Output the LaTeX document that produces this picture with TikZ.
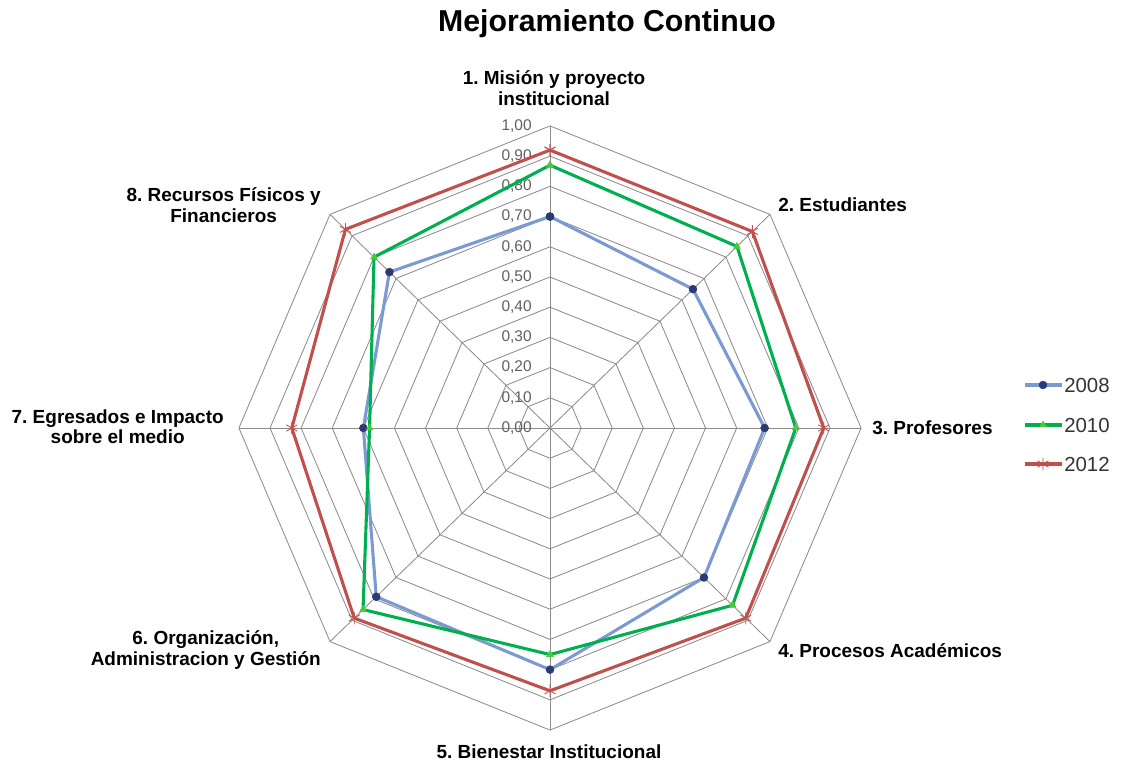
\documentclass[tikz,border=0pt]{standalone}
\usepackage{fontspec}
\setmainfont{Liberation Sans}
\usepackage{tikz}
\usetikzlibrary{plotmarks}
\frenchspacing
\definecolor{GridColor}{RGB}{140,140,140}
\definecolor{TickColor}{RGB}{95,95,95}
\definecolor{BlueLine}{RGB}{124,154,210}
\definecolor{BlueMark}{RGB}{44,58,115}
\definecolor{GreenLine}{RGB}{0,176,80}
\definecolor{RedLine}{RGB}{192,80,77}
\tikzstyle{gridline} = [GridColor, line width=0.6pt]
\tikzstyle{catlabel} = [font=\fontsize{13.5}{14.5}\selectfont\bfseries, align=center, inner sep=0pt]
\tikzstyle{ticklabel} = [font=\fontsize{11}{12}\selectfont, TickColor, anchor=east, inner sep=0pt]
\tikzstyle{legendlabel} = [font=\fontsize{14.5}{16}\selectfont, black!80, anchor=west, inner sep=0pt]
\tikzstyle{serie2008} = [BlueLine, line width=2.2pt, line join=round, mark=*, mark size=2.8pt, mark options={BlueMark, fill=BlueMark, line width=0.4pt}]
\tikzstyle{serie2010} = [GreenLine, line width=2.2pt, line join=round, mark=triangle*, mark size=2.8pt, mark options={GreenLine!70!yellow, line width=0.4pt}]
\tikzstyle{serie2012} = [RedLine, line width=2.2pt, line join=round, mark=asterisk, mark size=4.5pt, mark options={RedLine, line width=0.6pt}]

\begin{document}
\begin{tikzpicture}[x=0.025cm, y=-0.025cm]
  \useasboundingbox (0,0) rectangle (1123,766);
  \node[font=\fontsize{21.5}{25}\selectfont\bfseries, inner sep=0pt] (title) at (607,24) {Mejoramiento Continuo};

  \begin{scope}[shift={(550,428)}, x=7.775cm, y=7.55cm]
    \foreach \i [evaluate=\i as \r using \i/10] in {1,...,10}
      \draw[gridline] (90:\r) -- (45:\r) -- (0:\r) -- (-45:\r) -- (-90:\r) -- (-135:\r) -- (180:\r) -- (135:\r) -- cycle;
    \foreach \a in {90,45,...,-225}
      \draw[gridline] (0,0) -- (\a:1);
    \foreach \i [evaluate=\i as \r using \i/10] in {0,...,10}
      \node[ticklabel] (tick\i) at (-0.058,\r) {\pgfmathprintnumber[fixed, fixed zerofill, precision=2, use comma, assume math mode=true]{\r}};

    \draw[serie2008] plot coordinates {(90:0.70) (45:0.65) (0:0.69) (-45:0.70) (-90:0.80) (-135:0.79) (180:0.60) (135:0.73) (90:0.70)};
    \draw[serie2010] plot coordinates {(90:0.87) (45:0.85) (0:0.79) (-45:0.83) (-90:0.75) (-135:0.85) (180:0.58) (135:0.80) (90:0.87)};
    \draw[serie2012] plot coordinates {(90:0.92) (45:0.92) (0:0.88) (-45:0.89) (-90:0.87) (-135:0.89) (180:0.83) (135:0.93) (90:0.92)};
  \end{scope}

  \node[catlabel] (cat1) at (554,88) {1. Misión y proyecto\\institucional};
  \node[catlabel, anchor=west] (cat2) at (778,205) {2. Estudiantes};
  \node[catlabel, anchor=west] (cat3) at (872,428) {3. Profesores};
  \node[catlabel, anchor=west] (cat4) at (778,651) {4. Procesos Académicos};
  \node[catlabel] (cat5) at (549,752) {5. Bienestar Institucional};
  \node[catlabel, anchor=east] (cat6) at (321,650) {6. Organización,\\Administracion y Gestión};
  \node[catlabel, anchor=east] (cat7) at (224,427) {7. Egresados e Impacto\\sobre el medio};
  \node[catlabel, anchor=east] (cat8) at (321,205) {8. Recursos Físicos y\\Financieros};

  \draw[serie2008, mark indices={2}] plot coordinates {(1025,385) (1043,385) (1062,385)};
  \draw[serie2010, mark indices={2}] plot coordinates {(1025,425) (1043,425) (1062,425)};
  \draw[serie2012, mark indices={2}] plot coordinates {(1025,464) (1043,464) (1062,464)};
  \node[legendlabel] (leg2008) at (1064,385) {2008};
  \node[legendlabel] (leg2010) at (1064,425) {2010};
  \node[legendlabel] (leg2012) at (1064,464) {2012};
\end{tikzpicture}
\end{document}
